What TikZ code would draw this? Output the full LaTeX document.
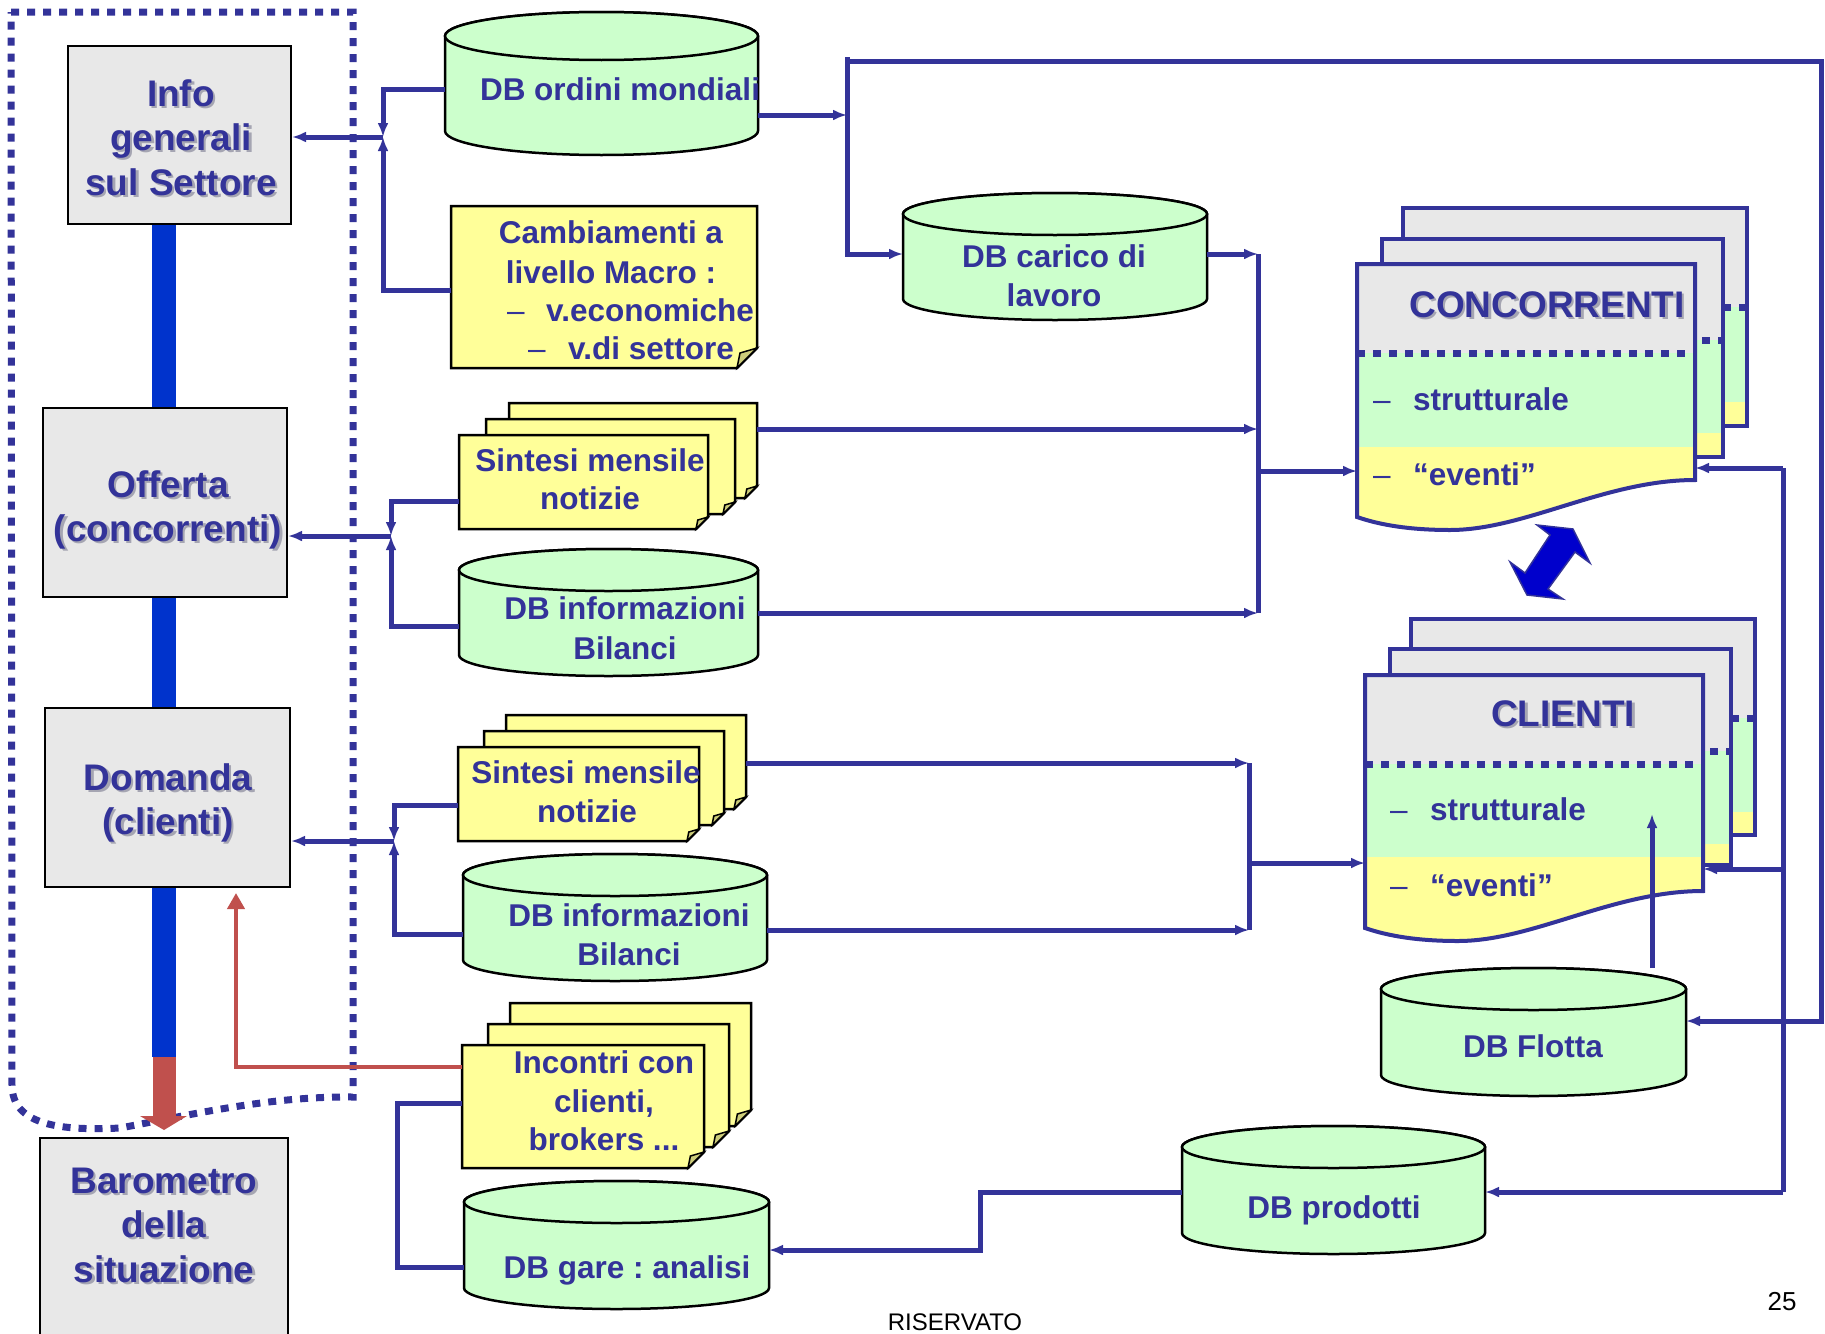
\documentclass[tikz,border=0pt]{standalone}
\usepackage{fontspec}
\setmainfont{Liberation Sans}
\usetikzlibrary{arrows.meta}

\definecolor{navy}{RGB}{51,51,153}
\definecolor{boxgray}{RGB}{232,232,232}
\definecolor{notey}{RGB}{255,255,153}
\definecolor{flap}{RGB}{204,204,122}
\definecolor{dbgreen}{RGB}{204,255,204}
\definecolor{barblue}{RGB}{0,51,204}
\definecolor{redline}{RGB}{192,80,77}
\definecolor{txtshadow}{RGB}{165,165,178}
\definecolor{arrowblue}{RGB}{0,0,204}

\newcommand\FontBig{\bfseries\fontsize{37}{45}\selectfont}
\newcommand\FontMid{\bfseries\fontsize{31.5}{39}\selectfont}
\newcommand\FontDash{\mdseries\fontsize{31.5}{39}\selectfont}

\tikzset{
  conn/.style={draw=navy, line width=5pt},
  arrowend/.style={-{Latex[length=14pt,width=11pt]}},
  redconn/.style={draw=redline, line width=4pt, -{Triangle[length=16pt,width=17pt]}},
  graybox/.style={draw=black, line width=2pt, fill=boxgray},
  boxtxt/.style={anchor=base, inner sep=0pt, text=navy, font=\FontBig},
  boxshd/.style={anchor=base, inner sep=0pt, text=txtshadow, font=\FontBig},
  txt/.style={anchor=base, inner sep=0pt, text=navy, font=\FontMid},
  txtw/.style={anchor=base west, inner sep=0pt, text=navy, font=\FontMid},
  dashtxt/.style={anchor=base west, inner sep=0pt, text=navy, font=\FontDash},
  cylshape/.style={draw=black, line width=2.5pt, fill=dbgreen},
  notesheet/.style={draw=black, line width=2.5pt, fill=notey, line join=miter},
  docedge/.style={draw=navy, line width=4pt, line join=miter},
  dotrule/.style={draw=navy, line width=7pt, dash pattern=on 8pt off 8pt},
  anchorbox/.style={rectangle, inner sep=0pt, outer sep=0pt, draw=none, fill=none},
}

% database cylinder: name, centre x, top, bottom, half width, end radius
\newcommand\dbcyl[6]{%
  \pgfmathsetmacro\cyA{#2-#5}\pgfmathsetmacro\cyB{#2+#5}%
  \pgfmathsetmacro\cyT{#3+#6}\pgfmathsetmacro\cyU{#4-#6}%
  \pgfmathsetmacro\cyM{(#3+#4)/2}\pgfmathsetmacro\cyW{2*#5}\pgfmathsetmacro\cyH{#4-#3}%
  \filldraw[cylshape] (\cyA,\cyT) -- (\cyA,\cyU)
     arc[start angle=180, end angle=0, x radius=#5, y radius=#6] -- (\cyB,\cyT)
     arc[start angle=0, end angle=-180, x radius=#5, y radius=#6] -- cycle;
  \draw[cylshape] (#2,\cyT) ellipse[x radius=#5, y radius=#6];
  \node[anchorbox, minimum width=\cyW pt, minimum height=\cyH pt] (#1) at (#2,\cyM) {};
}

% note sheet with a folded lower right corner: x1, y1, x2, y2, fold
\newcommand\sheet[5]{%
  \filldraw[notesheet] (#1,#2) -- (#3,#2) -- (#3,#4-#5) -- (#3-#5,#4) -- (#1,#4) -- cycle;
  \filldraw[notesheet, fill=flap, line width=1.5pt] (#3,#4-#5) -- (#3-0.85*#5,#4-0.75*#5) -- (#3-#5,#4) -- cycle;
}

% document page seen behind: x1, top, x2, dotted rule, end of green band, bottom
\newcommand\backdoc[6]{%
  \fill[boxgray] (#1,#2) rectangle (#3,#4);
  \fill[dbgreen] (#1,#4) rectangle (#3,#5);
  \fill[notey] (#1,#5) rectangle (#3,#6);
  \draw[dotrule] (#1,#4) -- (#3,#4);
  \draw[docedge] (#1,#2) rectangle (#3,#6);
}

% front document page with wavy lower edge: x1, top, x2, dotted rule, end of green band, lower left y
\newcommand\frontdoc[6]{%
  \begin{scope}
    \clip (#1,#2) -- (#3,#2) -- (#3,#6-37) .. controls (#3-90,#6-37) and (#3-170,#6+13) .. (#1+93,#6+13)
          .. controls (#1+53,#6+13) and (#1+23,#6+8) .. (#1,#6) -- cycle;
    \fill[boxgray] (#1,#2) rectangle (#3,#4);
    \fill[dbgreen] (#1,#4) rectangle (#3,#5);
    \fill[notey] (#1,#5) rectangle (#3,#6+20);
  \end{scope}
  \draw[dotrule] (#1,#4) -- (#3,#4);
  \draw[docedge] (#1,#2) -- (#3,#2) -- (#3,#6-37) .. controls (#3-90,#6-37) and (#3-170,#6+13) .. (#1+93,#6+13)
          .. controls (#1+53,#6+13) and (#1+23,#6+8) .. (#1,#6) -- cycle;
}

% label with a soft drop shadow: name, x, baseline y, text
\newcommand\shtxt[4]{%
  \node[boxshd] (#1s) at (#2+2.5,#3+2.5) {#4};
  \node[boxtxt] (#1) at (#2,#3) {#4};
}

\begin{document}
\frenchspacing
\begin{tikzpicture}[x=1pt,y=-1pt]
\useasboundingbox (0,0) rectangle (1825,1333);
\fill[white] (0,0) rectangle (1825,1333);

% ---- left column: vertical bar and summary boxes ----
\coordinate (barTop) at (164,224);
\coordinate (barEnd) at (164,1057);
\draw[barblue, line width=24pt] (barTop) -- (barEnd);

\node[graybox, minimum width=223pt, minimum height=178pt] (info) at (179.5,135) {};
\node[graybox, minimum width=244pt, minimum height=189pt] (off) at (165,502.5) {};
\node[graybox, minimum width=245pt, minimum height=179pt] (dom) at (167.5,797.5) {};
\node[graybox, minimum width=248pt, minimum height=207pt] (baro) at (164,1241.5) {};

\shtxt{infoA}{181}{106}{Info}
\shtxt{infoB}{181}{150}{generali}
\shtxt{infoC}{181}{195}{sul Settore}
\shtxt{offA}{168}{497}{Offerta}
\shtxt{offB}{168}{541}{(concorrenti)}
\shtxt{domA}{168}{790}{Domanda}
\shtxt{domB}{168}{834}{(clienti)}
\shtxt{baroA}{164}{1193}{Barometro}
\shtxt{baroB}{164}{1237}{della}
\shtxt{baroC}{164}{1282}{situazione}

% dotted frame round the three analysis boxes
\draw[dotrule] (11,12) -- (353,12) -- (353,1097)
   .. controls (270,1096) and (190,1115) .. (120,1128)
   .. controls (60,1131) and (12,1125) .. (12,1085) -- cycle;

% red arrow into the barometer
\fill[redline] (152.5,1057) rectangle (175.5,1117);
\fill[redline] (140,1116) -- (187,1116) -- (164,1130) -- cycle;

% ---- middle column ----
\dbcyl{dbord}{601.5}{12}{155}{156.5}{24}
\sheet{451}{206}{757}{368}{20}
\node[anchorbox, minimum width=306pt, minimum height=162pt] (camb) at (604,287) {};

\sheet{509}{403}{757}{498}{12}
\sheet{486}{419}{735}{514}{12}
\sheet{459}{435}{708}{529}{12}
\node[anchorbox, minimum width=298pt, minimum height=126pt] (sint1) at (608,466) {};

\dbcyl{dbinf1}{608.5}{549}{676}{149.5}{21}

\sheet{506}{715}{746}{809}{12}
\sheet{484}{731}{724}{825}{12}
\sheet{458}{747}{699}{841}{12}
\node[anchorbox, minimum width=288pt, minimum height=126pt] (sint2) at (602,778) {};

\dbcyl{dbinf2}{615}{854}{981}{152}{21}

\sheet{510}{1003}{751}{1126}{16}
\sheet{488}{1024}{729}{1147}{16}
\sheet{462}{1045}{704}{1168}{16}
\node[anchorbox, minimum width=289pt, minimum height=165pt] (inc) at (606.5,1085.5) {};

\dbcyl{dbgare}{616.5}{1181}{1309}{152.5}{21}

% ---- right part ----
\dbcyl{dbcar}{1055}{193}{320}{152}{21}
\dbcyl{dbflotta}{1533.5}{968}{1096}{152.5}{21}
\dbcyl{dbprod}{1333.5}{1126}{1254}{151.5}{21}

\backdoc{1403}{208}{1747}{307}{402}{426}
\backdoc{1382}{239}{1723}{340}{433}{457}
\frontdoc{1357}{264}{1695}{353}{447}{517}
\node[anchorbox, minimum width=338pt, minimum height=253pt] (conc) at (1526,390.5) {};

\backdoc{1411}{619}{1755}{718}{812}{835}
\backdoc{1390}{649}{1731}{751}{844}{865}
\frontdoc{1365}{675}{1703}{764}{857}{928}
\node[anchorbox, minimum width=338pt, minimum height=253pt] (cli) at (1534,801.5) {};

% two-way arrow between the two files
\filldraw[fill=arrowblue, draw=navy, line width=1.5pt, line join=miter]
  (1550,535) -- (1537,525) -- (1573,529) -- (1590,563) -- (1575,552)
  -- (1548,589) -- (1563,599) -- (1527,595) -- (1510,562) -- (1525,573) -- cycle;

% ---- connectors ----
\coordinate (jInfo) at (383,137);
\draw[conn, arrowend] (dbord.west |- 0,89) -| (jInfo);
\draw[conn, arrowend] (camb.west |- 0,290) -| (jInfo);
\draw[conn, arrowend] (jInfo) -- (info.east |- jInfo);

\coordinate (jOff) at (391,536);
\draw[conn, arrowend] (sint1.west |- 0,501) -| (jOff);
\draw[conn, arrowend] (dbinf1.west |- 0,626) -| (jOff);
\draw[conn, arrowend] (jOff) -- (off.east |- jOff);

\coordinate (jDom) at (394,841);
\draw[conn, arrowend] (sint2.west |- 0,805) -| (jDom);
\draw[conn, arrowend] (dbinf2.west |- 0,934) -| (jDom);
\draw[conn, arrowend] (jDom) -- (dom.east |- jDom);

\draw[conn] (inc.west |- 0,1103) -- (397,1103) -- (397,1267) -- (dbgare.west |- 0,1267);

\coordinate (redTip) at (236,893);
\draw[redconn] (inc.west |- 0,1067) -| (redTip);

\coordinate (jOrd) at (847,115);
\coordinate (topL) at (847,57);
\coordinate (topR) at (1821,61);
\draw[conn, arrowend] (dbord.east |- jOrd) -- (jOrd);
\draw[conn, arrowend] (topL) -- (topL |- 0,254) -- (dbcar.west |- 0,254);
\draw[conn, arrowend, line join=miter] (847,61) -- (topR) -- (topR |- 0,1021) -- (dbflotta.east |- 0,1021);

\coordinate (jCar) at (1258,254);
\coordinate (jInf1) at (1258,613);
\draw[conn] (jCar) -- (jInf1);
\draw[conn, arrowend] (dbcar.east |- jCar) -- (jCar);
\draw[conn, arrowend] (sint1.east |- 0,429) -- (jCar |- 0,429);
\draw[conn, arrowend] (dbinf1.east |- jInf1) -- (jInf1);
\draw[conn, arrowend] (jCar |- 0,471) -- (conc.west |- 0,471);

\coordinate (jS2) at (1249,763);
\coordinate (jInf2) at (1249,930);
\draw[conn] (jS2) -- (jInf2);
\draw[conn, arrowend] (sint2.east |- jS2) -- (jS2);
\draw[conn, arrowend] (dbinf2.east |- jInf2) -- (jInf2);
\draw[conn, arrowend] (jS2 |- 0,863) -- (cli.west |- 0,863);

\coordinate (rTop) at (1783,468);
\coordinate (rBot) at (1783,1192);
\draw[conn] (rTop) -- (rBot);
\draw[conn, arrowend] (rTop) -- (conc.east |- rTop);
\draw[conn, arrowend] (rTop |- 0,869) -- (cli.east |- 0,869);
\draw[conn, arrowend] (rBot) -- (dbprod.east |- rBot);

\coordinate (jGare) at (980,1192);
\draw[conn, arrowend] (dbprod.west |- jGare) -- (jGare) -- (jGare |- 0,1250) -- (dbgare.east |- 0,1250);

\coordinate (cliUp) at (1652,814);
\draw[conn, arrowend] (dbflotta.north -| cliUp) -- (cliUp);

% ---- texts ----
\node[txt] (tOrd) at (620,100) {DB ordini mondiali};
\node[txt] (tCambA) at (611,243) {Cambiamenti a};
\node[txt] (tCambB) at (611,283) {livello Macro :};
\node[dashtxt] (tCambCd) at (507,321) {–};
\node[txtw] (tCambC) at (546,321) {v.economiche};
\node[dashtxt] (tCambDd) at (528,359) {–};
\node[txtw] (tCambD) at (568,359) {v.di settore};

\node[txt] (tS1a) at (590,471) {Sintesi mensile};
\node[txt] (tS1b) at (590,509) {notizie};
\node[txt] (tI1a) at (625,619) {DB informazioni};
\node[txt] (tI1b) at (625,659) {Bilanci};
\node[txt] (tS2a) at (586,783) {Sintesi mensile};
\node[txt] (tS2b) at (587,822) {notizie};
\node[txt] (tI2a) at (629,926) {DB informazioni};
\node[txt] (tI2b) at (629,965) {Bilanci};
\node[txt] (tIncA) at (604,1073) {Incontri con};
\node[txt] (tIncB) at (604,1112) {clienti,};
\node[txt] (tIncC) at (604,1150) {brokers ...};
\node[txt] (tGare) at (627,1278) {DB gare : analisi};

\node[txt] (tCarA) at (1054,267) {DB carico di};
\node[txt] (tCarB) at (1054,306) {lavoro};
\node[txt] (tFlotta) at (1533,1057) {DB Flotta};
\node[txt] (tProd) at (1334,1218) {DB prodotti};

\shtxt{tConc}{1547}{317}{CONCORRENTI}
\node[dashtxt] (tConcAd) at (1373,410) {–};
\node[txtw] (tConcA) at (1413,410) {strutturale};
\node[dashtxt] (tConcBd) at (1373,485) {–};
\node[txtw] (tConcB) at (1413,485) {“eventi”};

\shtxt{tCli}{1563}{726}{CLIENTI}
\node[dashtxt] (tCliAd) at (1390,820) {–};
\node[txtw] (tCliA) at (1430,820) {strutturale};
\node[dashtxt] (tCliBd) at (1390,896) {–};
\node[txtw] (tCliB) at (1430,896) {“eventi”};

\node[anchor=base, inner sep=0pt, font=\fontsize{26}{30}\selectfont] (pgnum) at (1782,1310) {25};
\node[anchor=base, inner sep=0pt, font=\fontsize{24}{28}\selectfont] (conf) at (955,1330) {RISERVATO};
\end{tikzpicture}
\end{document}
